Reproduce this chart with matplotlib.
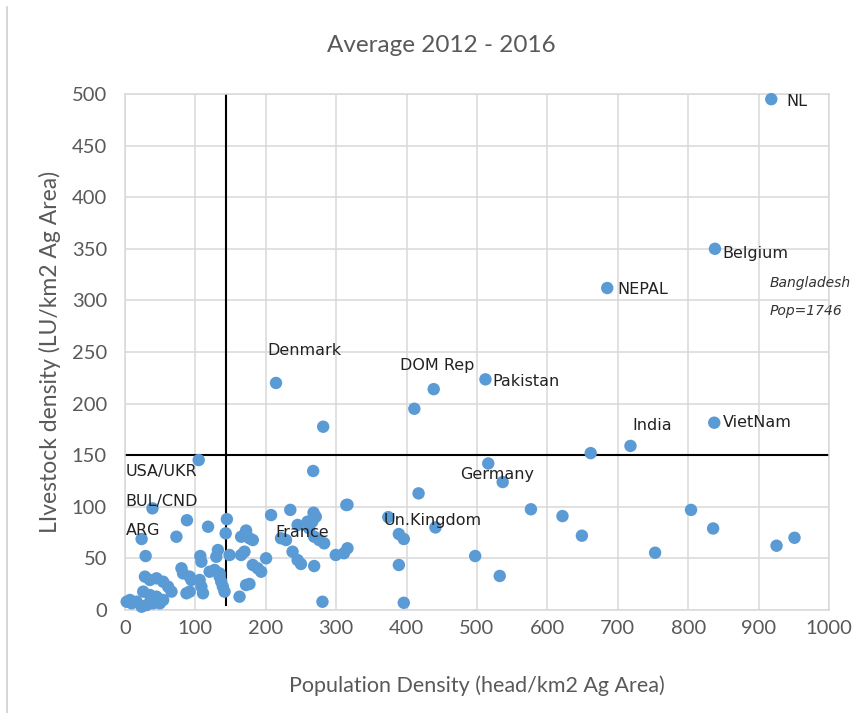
import matplotlib.pyplot as plt
from matplotlib.lines import Line2D

# population density (head/km2 ag area) vs livestock density (LU/km2 ag area)
pop_density = [
    918, 838, 685, 837, 718, 661.5, 512, 438.5, 411, 214.5, 281.5,
    516, 536.5, 417, 316, 576.6, 621.4, 649, 441, 374, 389, 396, 316, 311,
    389, 497.4, 532.3, 396, 804, 835.4, 753, 925.5, 951,
    104.7, 267.3, 39, 88, 118, 144.7, 143, 73, 23.6, 207.5, 234.8, 267.8,
    271, 314.4, 172, 176.8, 165, 181.5, 221.6, 228.7, 245.2, 259.3, 261.7,
    268.7, 275.8, 282.9, 299.4, 238, 245.2, 249.9, 268.7, 280.5, 29.3, 132,
    107, 108.5, 165, 169.7, 200.4, 181.5, 188.5, 193.4, 172, 176.8, 162.7,
    139, 136.7, 120.2, 127.3, 134.4, 80.2, 82.5, 91.9, 94.3, 106, 108.5,
    110.8, 91.9, 87.3, 28.3, 35.4, 44.8, 54.2, 61.2, 66, 25.9, 35.4, 44.8,
    54.2, 2.4, 9.4, 16.5, 23.6, 30.7, 40, 49.5, 7.1, 129.7, 148.5, 134.4,
    141.4, 266,
]
livestock_density = [
    495, 350, 312, 181.5, 159, 152, 223.5, 214, 195, 220, 177.6,
    142, 124, 113, 102, 97.6, 91, 72, 80, 90, 73.6, 68.8, 59.8, 55,
    43.6, 52.3, 33, 7, 97, 79, 55.5, 62.3, 70,
    145.3, 134.7, 98.5, 87, 80.7, 88, 74.3, 71, 68.8, 92, 97, 94.3,
    90.4, 101.7, 77, 69.5, 71, 67.8, 69.5, 67.8, 82.4, 85.6, 79.2,
    71, 67.8, 64.6, 53.3, 56.5, 48.4, 44.6, 42.6, 8, 52.3, 58.1,
    52.3, 46.8, 53.3, 56.5, 50.1, 43.6, 40.4, 37.1, 24.2, 25.2, 12.9,
    22.6, 27.4, 37.1, 38.8, 35.5, 40.4, 35.5, 32.3, 29.1, 29.1, 22.6,
    16.2, 17.8, 16.2, 32.3, 29.1, 30.7, 27.4, 22.6, 17.8, 17.8, 14.5, 12.9,
    9.7, 8, 6.5, 8, 3.2, 4.8, 6.5, 6.5, 9.7, 51.6, 53.3, 32.3,
    17.8, 85.6,
]

# reference lines
pop_ref = 143
livestock_ref = 150

country_names = ['NL', 'Belgium', 'NEPAL', 'India', 'VietNam', 'Pakistan',
                 'DOM Rep', 'Denmark', 'Germany', 'Un.Kingdom', 'France',
                 'USA/UKR', 'BUL/CND', 'ARG']
name_x = [939, 849, 700, 720, 849, 522, 391, 202, 476, 368, 214, 1, 1, 1]
name_y = [493, 345, 311, 179, 182, 221, 237, 251, 131, 87, 75, 134, 105, 77]

fig = plt.figure(figsize=(8.66, 7.13), dpi=100)
ax = fig.add_axes([125/866, 1-610/713, (829-125)/866, (610-94)/713])

grid_c = '#D9D9D9'
ax.set_xlim(0, 1000)
ax.set_ylim(0, 500)
ax.set_xticks(range(0, 1001, 100))
ax.set_yticks(range(0, 501, 50))
ax.grid(True, color=grid_c, lw=1.1, zorder=0)
ax.set_axisbelow(True)
for s in ax.spines.values():
    s.set_color(grid_c)
    s.set_linewidth(1.1)
ax.tick_params(length=0, labelsize=14.5, labelcolor='#595959')
ax.tick_params(axis='y', pad=13)
ax.tick_params(axis='x', pad=7)
for lab in ax.get_xticklabels() + ax.get_yticklabels():
    lab.set_family('Lato')

ax.plot([pop_ref, pop_ref], [5, 500], color='black', lw=1.5, zorder=2)
ax.plot([0, 1000], [livestock_ref, livestock_ref], color='black', lw=1.5, zorder=2)

ax.scatter(pop_density, livestock_density, s=80, color='#5B9BD5',
           edgecolors='none', zorder=3, clip_on=False)

for name, tx, ty in zip(country_names, name_x, name_y):
    ax.text(tx, ty, name, fontsize=11.5, color='#222222', ha='left',
            va='center', zorder=4, clip_on=False)

ax.text(915, 317, 'Bangladesh', fontsize=10, style='italic', color='#333333',
        ha='left', va='center', clip_on=False)
ax.text(915, 290, 'Pop=1746', fontsize=10, style='italic', color='#333333',
        ha='left', va='center', clip_on=False)

fig.text(441/866, 1-45/713, 'Average 2012 - 2016', fontsize=17.5,
         family='Lato', color='#595959', ha='center', va='center')
ax.set_xlabel('Population Density (head/km2 Ag Area)', fontsize=15.5,
              family='Lato', color='#595959', labelpad=28)
ax.set_ylabel('LIvestock density (LU/km2 Ag Area)', fontsize=16.5,
              family='Lato', color='#595959', labelpad=8)

# thin frame line at left of the chart area
fig.add_artist(Line2D([7/866, 7/866], [0, 0.99], color='#D0D0D0', lw=1.2,
                      transform=fig.transFigure))

fig.savefig('out.png', dpi=100, facecolor='white')
